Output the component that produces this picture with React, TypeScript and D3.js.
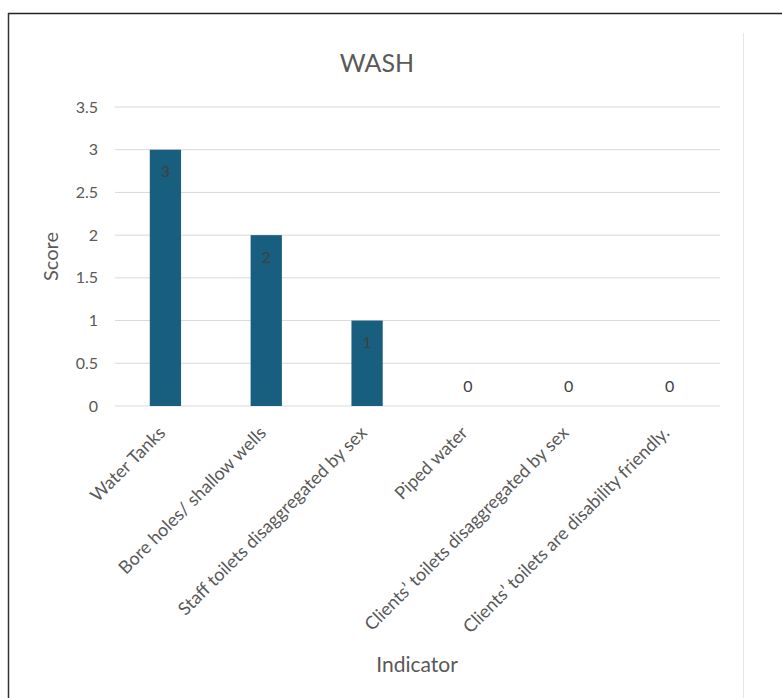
import React from "react";
import * as d3 from "d3";

const categories = [
  "Water Tanks",
  "Bore holes/ shallow wells",
  "Staff toilets disaggregated by sex",
  "Piped water",
  "Clients’ toilets disaggregated by sex",
  "Clients’ toilets are disability friendly.",
];
const scores = [3, 2, 1, 0, 0, 0];
const yTicks = [0, 0.5, 1, 1.5, 2, 2.5, 3, 3.5];

export default function App() {
  const W = 782, H = 698;
  const left = 115, right = 720, top = 107, bottom = 406;
  const x = d3.scaleBand<string>().domain(categories).range([left, right]).paddingInner(0.69).paddingOuter(0.345);
  const y = d3.scaleLinear().domain([0, 3.5]).range([bottom, top]);
  const font = "Lato, 'Open Sans', sans-serif";
  return (
    <svg width={W} height={H} style={{ position: "absolute", left: 0, top: 0 }} fontFamily={font}>
      <rect x={0} y={0} width={W} height={H} fill="#fff" />
      <line x1={8} y1={13.5} x2={W} y2={13.5} stroke="#222" strokeWidth={1.5} />
      <line x1={8.5} y1={13} x2={8.5} y2={H} stroke="#333" strokeWidth={1.5} />
      <line x1={743.5} y1={33} x2={743.5} y2={H} stroke="#e6e6e6" strokeWidth={1} />
      <text x={377} y={72} textAnchor="middle" fontSize={25} fill="#595959">WASH</text>
      {yTicks.map((t) => (
        <g key={t}>
          <line x1={left} x2={right} y1={y(t)} y2={y(t)} stroke="#d9d9d9" strokeWidth={1} />
          <text x={98} y={y(t)} dy="0.35em" textAnchor="end" fontSize={16} fill="#595959">{t}</text>
        </g>
      ))}
      <text transform={`translate(58,${(top + bottom) / 2}) rotate(-90)`} textAnchor="middle" fontSize={20} fill="#595959">Score</text>
      {categories.map((c, i) => {
        const bx = x(c)!;
        const bw = x.bandwidth();
        const v = scores[i];
        const cx = bx + bw / 2;
        return (
          <g key={c}>
            {v > 0 && <rect x={bx} y={y(v)} width={bw} height={y(0) - y(v)} fill="#175e7f" />}
            <text x={cx} y={v > 0 ? y(v) + 22 : y(0) - 20} dy="0.35em" textAnchor="middle" fontSize={16} fill="#404040">{v}</text>
            <text transform={`translate(${cx + 1},${bottom + 28}) rotate(-45)`} textAnchor="end" fontSize={18} fill="#595959">{c}</text>
          </g>
        );
      })}
      <text x={417} y={672} textAnchor="middle" fontSize={21} fill="#595959">Indicator</text>
    </svg>
  );
}
